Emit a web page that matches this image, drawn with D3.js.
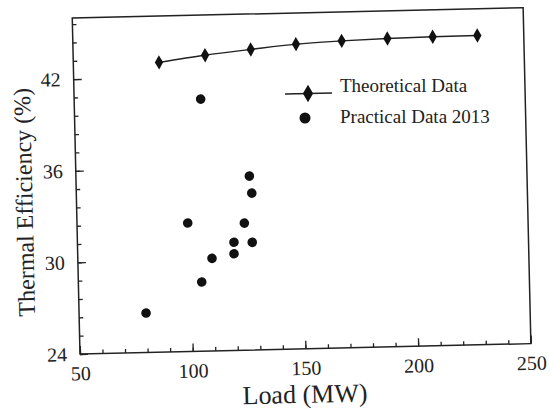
<!DOCTYPE html>
<html>
<head>
<meta charset="utf-8">
<script src="https://cdn.jsdelivr.net/npm/d3@7"></script>
<style>
  body { margin: 0; background: #fff; }
  svg { display: block; }
  svg text { font-family: "Liberation Serif", "DejaVu Serif", "Noto Serif", "Times", serif; fill: #222; }
  .axis path { display: none; }
  .axis line { stroke: #222; stroke-width: 1.3; }
</style>
</head>
<body>
<svg width="550" height="409"></svg>
<script>
// theoretical curve
const theoLoad = [88, 108.5, 128.8, 148.9, 169.2, 189.5, 209.6, 229.4];
const theoEff = [42.97, 43.37, 43.68, 43.96, 44.1, 44.19, 44.23, 44.25];
// practical data 2013
const pracLoad = [106.1, 126.9, 127.8, 99.1, 124.2, 119.4, 127.5, 119.3, 109.5, 104.7, 79.7];
const pracEff = [40.5, 35.39, 34.27, 32.41, 32.32, 31.08, 31.05, 30.33, 30.06, 28.53, 26.58];
const xTicks = [50, 100, 150, 200, 250];
const yTicks = [24, 30, 36, 42];

const serif = '"Liberation Serif", "DejaVu Serif", "Noto Serif", "Times", serif';
const svg = d3.select("svg");
const w = 451, h = 336;
const x = d3.scaleLinear().domain([50, 250]).range([0, w]);
const y = d3.scaleLinear().domain([24, 46]).range([h, 0]);

// the scanned figure is tilted a little
const g = svg.append("g")
  .attr("transform", `translate(80,354) rotate(-1.32) translate(0,${-h})`);

g.append("rect")
  .attr("width", w).attr("height", h)
  .attr("fill", "none").attr("stroke", "#222").attr("stroke-width", 1.5);

// minor ticks
g.append("g").attr("class", "axis").attr("transform", `translate(0,${h})`)
  .call(d3.axisBottom(x).tickValues(d3.range(50, 251, 10)).tickSize(-4).tickSizeOuter(0).tickFormat(""));
g.append("g").attr("class", "axis")
  .call(d3.axisLeft(y).tickValues(d3.range(24, 46, 1.2)).tickSize(-4).tickSizeOuter(0).tickFormat(""));

// major ticks
g.append("g").attr("class", "axis").attr("transform", `translate(0,${h})`)
  .call(d3.axisBottom(x).tickValues(xTicks).tickSize(-8).tickSizeOuter(0).tickPadding(12));
g.append("g").attr("class", "axis")
  .call(d3.axisLeft(y).tickValues(yTicks).tickSize(-8).tickSizeOuter(0).tickPadding(13));
g.selectAll(".axis").attr("font-family", serif);
g.selectAll(".axis text").attr("font-size", 20).attr("fill", "#222");

g.append("text")
  .attr("x", 224).attr("y", h + 54)
  .attr("text-anchor", "middle").attr("font-size", 26)
  .text("Load (MW)");
g.append("text")
  .attr("transform", `translate(-44,183) rotate(-90)`)
  .attr("text-anchor", "middle").attr("font-size", 24)
  .text("Thermal Efficiency (%)");

const theo = theoLoad.map((d, i) => [d, theoEff[i]]);
const prac = pracLoad.map((d, i) => [d, pracEff[i]]);

g.append("path")
  .datum(theo)
  .attr("fill", "none").attr("stroke", "#222").attr("stroke-width", 1.4)
  .attr("d", d3.line().x(d => x(d[0])).y(d => y(d[1])).curve(d3.curveMonotoneX));

const diamond = d3.symbol().type(d3.symbolDiamond).size(60);
g.append("g").selectAll("path").data(theo).join("path")
  .attr("transform", d => `translate(${x(d[0])},${y(d[1])})`)
  .attr("d", diamond).attr("fill", "#111");

g.append("g").selectAll("circle").data(prac).join("circle")
  .attr("cx", d => x(d[0])).attr("cy", d => y(d[1]))
  .attr("r", 4.8).attr("fill", "#111");

// legend
const lg = svg.append("g");
lg.append("line").attr("x1", 285).attr("x2", 332).attr("y1", 94).attr("y2", 93)
  .attr("stroke", "#222").attr("stroke-width", 1.4);
lg.append("path").attr("transform", "translate(308,93.5)")
  .attr("d", d3.symbol().type(d3.symbolDiamond).size(90)).attr("fill", "#111");
lg.append("text").attr("x", 340).attr("y", 92).attr("font-size", 19).text("Theoretical Data");
lg.append("circle").attr("cx", 305).attr("cy", 118).attr("r", 5.5).attr("fill", "#111");
lg.append("text").attr("x", 340).attr("y", 123).attr("font-size", 19).text("Practical Data 2013");
</script>
</body>
</html>
